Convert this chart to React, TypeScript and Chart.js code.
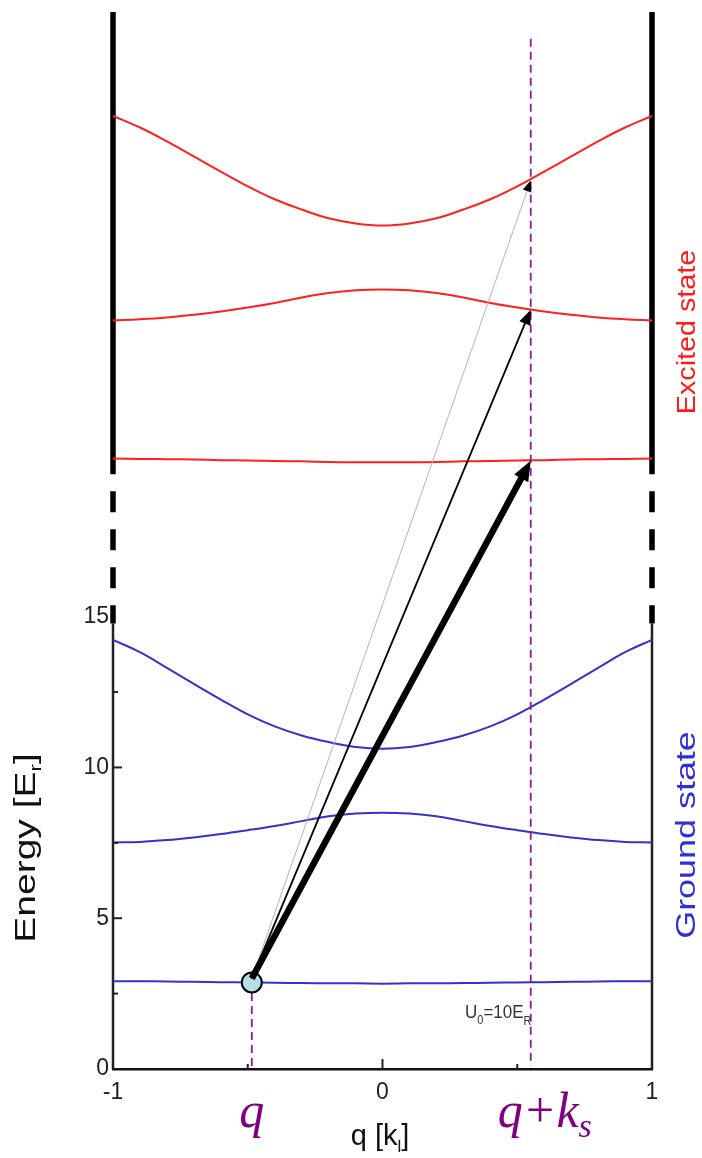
import React, { useEffect, useRef } from "react";
import { Chart, registerables } from "chart.js";

Chart.register(...registerables);

// ---- data ----
const qGrid = [-1, -0.9, -0.8, -0.7, -0.6, -0.5, -0.4, -0.3, -0.2, -0.1, 0, 0.1, 0.2, 0.3, 0.4, 0.5, 0.6, 0.7, 0.8, 0.9, 1];

// ground state bands (blue), energy in E_r
const groundBand1 = [2.91, 2.91, 2.9, 2.89, 2.88, 2.87, 2.86, 2.85, 2.84, 2.84, 2.83, 2.84, 2.84, 2.85, 2.86, 2.87, 2.88, 2.89, 2.9, 2.91, 2.91];
const groundBand2 = [7.51, 7.53, 7.59, 7.68, 7.79, 7.92, 8.06, 8.22, 8.38, 8.47, 8.5, 8.47, 8.38, 8.22, 8.06, 7.92, 7.79, 7.68, 7.59, 7.53, 7.51];
const groundBand3 = [14.23, 13.82, 13.3, 12.77, 12.25, 11.76, 11.36, 11.06, 10.84, 10.68, 10.62, 10.68, 10.84, 11.06, 11.36, 11.76, 12.25, 12.77, 13.3, 13.82, 14.23];

// excited state bands (red), drawn on the same (extended) energy axis
const excitedBand1 = [20.24, 20.23, 20.22, 20.21, 20.19, 20.18, 20.16, 20.15, 20.13, 20.12, 20.12, 20.12, 20.13, 20.15, 20.16, 20.18, 20.19, 20.21, 20.22, 20.23, 20.24];
const excitedBand2 = [24.82, 24.86, 24.92, 25.01, 25.12, 25.25, 25.4, 25.58, 25.73, 25.82, 25.85, 25.82, 25.73, 25.58, 25.4, 25.25, 25.12, 25.01, 24.92, 24.86, 24.82];
const excitedBand3 = [31.6, 31.22, 30.76, 30.26, 29.76, 29.27, 28.84, 28.5, 28.21, 28.04, 27.97, 28.04, 28.21, 28.5, 28.84, 29.27, 29.76, 30.26, 30.76, 31.22, 31.6];

// transition
const qInitial = -0.485;
const qFinal = 0.55;
const initialEnergy = 2.87;
const arrowStartEnergy = 3.0;
const arrowEndEnergies = [20.17, 25.18, 29.46];

// axes
const energyMin = 0;
const energyMax = 35.05;
const yTickLabels = [0, 5, 10, 15];
const xTickLabels = [-1, 0, 1];
const yMajorTicks = [5, 10];
const yMinorTicks = [2.5, 7.5, 12.5];
const xMajorTicks = [0];
const xMinorTicks = [-0.5, 0.5];
const groundFrameTop = 14.77;
const excitedFrameBottom = 19.72;
const markerLineTop = 34.16;

const FONT = "'Liberation Sans', Arial, Helvetica, sans-serif";
const SERIF = "'Liberation Serif', 'Times New Roman', serif";

type Seg = { t: string; size: number; dy?: number; style?: string; family?: string };

function drawRich(
  ctx: CanvasRenderingContext2D,
  segs: Seg[],
  x: number,
  y: number,
  rot: number,
  sx: number,
  sy: number,
  color: string,
  align: "center" | "left"
) {
  ctx.save();
  ctx.translate(x, y);
  ctx.rotate(rot);
  ctx.scale(sx, sy);
  ctx.fillStyle = color;
  ctx.textBaseline = "alphabetic";
  ctx.textAlign = "left";
  let total = 0;
  const widths = segs.map((s) => {
    ctx.font = `${s.style || ""} ${s.size}px ${s.family || FONT}`;
    const w = ctx.measureText(s.t).width;
    total += w;
    return w;
  });
  let cx = align === "center" ? -total / 2 : 0;
  segs.forEach((s, i) => {
    ctx.font = `${s.style || ""} ${s.size}px ${s.family || FONT}`;
    ctx.fillText(s.t, cx, s.dy || 0);
    cx += widths[i];
  });
  ctx.restore();
}

function drawArrow(
  ctx: CanvasRenderingContext2D,
  x0: number,
  y0: number,
  x1: number,
  y1: number,
  w: number,
  headLen: number,
  headHalf: number,
  color: string
) {
  const ang = Math.atan2(y1 - y0, x1 - x0);
  const c = Math.cos(ang);
  const s = Math.sin(ang);
  const bx = x1 - headLen * c;
  const by = y1 - headLen * s;
  ctx.save();
  ctx.strokeStyle = color;
  ctx.lineWidth = w;
  ctx.lineCap = "butt";
  ctx.beginPath();
  ctx.moveTo(x0, y0);
  ctx.lineTo(bx + 2 * c, by + 2 * s);
  ctx.stroke();
  ctx.fillStyle = "#000";
  ctx.beginPath();
  ctx.moveTo(x1, y1);
  ctx.lineTo(bx + headHalf * s, by - headHalf * c);
  ctx.lineTo(bx - headHalf * s, by + headHalf * c);
  ctx.closePath();
  ctx.fill();
  ctx.restore();
}

const overlayPlugin = {
  id: "overlay",
  beforeDraw(chart: any) {
    const ctx = chart.ctx;
    ctx.save();
    ctx.fillStyle = "#ffffff";
    ctx.fillRect(0, 0, chart.width, chart.height);
    ctx.restore();
  },
  afterDatasetsDraw(chart: any) {
    const ctx: CanvasRenderingContext2D = chart.ctx;
    const xs = chart.scales.x;
    const ys = chart.scales.y;
    const left = xs.getPixelForValue(-1);
    const bottom = ys.getPixelForValue(0);

    ctx.save();
    ctx.strokeStyle = "#222";
    ctx.lineWidth = 2;
    const hline = (x0: number, y0: number, x1: number, y1: number) => {
      ctx.beginPath();
      ctx.moveTo(x0, y0);
      ctx.lineTo(x1, y1);
      ctx.stroke();
    };
    yMajorTicks.forEach((v) => {
      const py = ys.getPixelForValue(v);
      hline(left, py, left + 9, py);
    });
    yMinorTicks.forEach((v) => {
      const py = ys.getPixelForValue(v);
      hline(left, py, left + 5, py);
    });
    xMajorTicks.forEach((v) => {
      const px = xs.getPixelForValue(v);
      hline(px, bottom, px, bottom - 10);
    });
    xMinorTicks.forEach((v) => {
      const px = xs.getPixelForValue(v);
      hline(px, bottom, px, bottom - 5);
    });
    ctx.restore();

    // transition arrows
    const x0 = xs.getPixelForValue(qInitial);
    const y0 = ys.getPixelForValue(arrowStartEnergy);
    const x1 = xs.getPixelForValue(qFinal);
    const specs = [
      { w: 6.5, hl: 20, hh: 8, color: "#000" },
      { w: 1.8, hl: 15, hh: 6, color: "#000" },
      { w: 1, hl: 11, hh: 4.5, color: "#b4b4b4" },
    ];
    [2, 1, 0].forEach((i) => {
      const sp = specs[i];
      drawArrow(ctx, x0, y0, x1, ys.getPixelForValue(arrowEndEnergies[i]), sp.w, sp.hl, sp.hh, sp.color);
    });
  },
  afterDraw(chart: any) {
    const ctx: CanvasRenderingContext2D = chart.ctx;
    const xs = chart.scales.x;
    drawRich(
      ctx,
      [
        { t: "Energy [E", size: 30 },
        { t: "r", size: 17, dy: 6 },
        { t: "]", size: 30 },
      ],
      35,
      848,
      -Math.PI / 2,
      1.3,
      1,
      "#111",
      "center"
    );
    drawRich(
      ctx,
      [
        { t: "q [k", size: 29 },
        { t: "l", size: 17, dy: 7 },
        { t: "]", size: 29 },
      ],
      380,
      1145,
      0,
      1,
      1,
      "#111",
      "center"
    );
    drawRich(ctx, [{ t: "Ground state", size: 27 }], 695, 835, -Math.PI / 2, 1.33, 1, "#2f2fd8", "center");
    drawRich(ctx, [{ t: "Excited state", size: 25 }], 695, 332, -Math.PI / 2, 1.15, 1, "#ff1a1a", "center");
    drawRich(
      ctx,
      [{ t: "q", size: 50, style: "italic", family: SERIF }],
      xs.getPixelForValue(qInitial),
      1127,
      0,
      1,
      1,
      "#800080",
      "center"
    );
    drawRich(
      ctx,
      [
        { t: "q+k", size: 50, style: "italic", family: SERIF },
        { t: "s", size: 34, style: "italic", family: SERIF, dy: 10 },
      ],
      xs.getPixelForValue(qFinal) + 14,
      1127,
      0,
      1,
      1,
      "#800080",
      "center"
    );
    drawRich(
      ctx,
      [
        { t: "U", size: 17 },
        { t: "0", size: 11, dy: 5 },
        { t: "=10E", size: 17 },
        { t: "R", size: 11, dy: 6 },
      ],
      465,
      1018,
      0,
      1,
      1.1,
      "#333",
      "left"
    );
  },
};

const pts = (arr: number[]) => qGrid.map((q, i) => ({ x: q, y: arr[i] }));

export default function App() {
  const canvasRef = useRef<HTMLCanvasElement | null>(null);

  useEffect(() => {
    const canvas = canvasRef.current;
    if (!canvas) return;
    const curve = (data: number[], color: string) => ({
      data: pts(data),
      borderColor: color,
      borderWidth: 2,
      pointRadius: 0,
      tension: 0.4,
      fill: false,
      clip: false as any,
    });
    const vline = (x: number, y0: number, y1: number, width: number, color: string, dash: number[] = [], offset = 0) => ({
      data: [
        { x, y: y0 },
        { x, y: y1 },
      ],
      borderColor: color,
      borderWidth: width,
      borderDash: dash,
      borderDashOffset: offset,
      pointRadius: 0,
      tension: 0,
      fill: false,
      clip: false as any,
    });

    const chart = new Chart(canvas, {
      type: "line",
      data: {
        datasets: [
          {
            data: [{ x: qInitial, y: initialEnergy }],
            showLine: false,
            pointRadius: 10,
            pointBackgroundColor: "#b6dfe3",
            pointBorderColor: "#000",
            pointBorderWidth: 2,
            clip: false as any,
          } as any,
          vline(qFinal, markerLineTop, 0.1, 1.8, "#8b1c8b", [8, 5]),
          vline(qInitial, initialEnergy - 0.35, 0.1, 1.8, "#8b1c8b", [8, 5]),
          curve(groundBand1, "#3232cc"),
          curve(groundBand2, "#3232cc"),
          curve(groundBand3, "#3232cc"),
          curve(excitedBand1, "#ff2020"),
          curve(excitedBand2, "#ff2020"),
          curve(excitedBand3, "#ff2020"),
          vline(-1, energyMax, excitedFrameBottom, 5.5, "#000"),
          vline(1, energyMax, excitedFrameBottom, 5.5, "#000"),
          vline(-1, excitedFrameBottom, groundFrameTop, 5.5, "#000", [21, 17], 21),
          vline(1, excitedFrameBottom, groundFrameTop, 5.5, "#000", [21, 17], 21),
          vline(-1, groundFrameTop, 0, 2.5, "#222"),
          vline(1, groundFrameTop, 0, 2.5, "#222"),
        ] as any,
      },
      options: {
        responsive: false,
        animation: false,
        devicePixelRatio: 1,
        events: [],
        layout: { padding: { top: 8, right: 50, left: 0, bottom: 0 } },
        plugins: {
          legend: { display: false },
          tooltip: { enabled: false },
        },
        scales: {
          x: {
            type: "linear",
            min: -1,
            max: 1,
            afterBuildTicks: (scale: any) => {
              scale.ticks = xTickLabels.map((v) => ({ value: v }));
            },
            afterFit: (scale: any) => {
              scale.height = 89;
              scale.paddingLeft = 0;
              scale.paddingRight = 0;
              scale.paddingTop = 0;
              scale.paddingBottom = 0;
            },
            grid: { display: false, drawTicks: false },
            border: { display: true, color: "#111", width: 2.5 },
            ticks: {
              padding: 10,
              color: "#222",
              font: { family: FONT, size: 23 },
              callback: (v: any) => String(v),
            },
          },
          y: {
            type: "linear",
            min: energyMin,
            max: energyMax,
            afterBuildTicks: (scale: any) => {
              scale.ticks = yTickLabels.map((v) => ({ value: v }));
            },
            afterFit: (scale: any) => {
              scale.width = 113;
              scale.paddingTop = 0;
              scale.paddingBottom = 0;
              scale.paddingLeft = 0;
              scale.paddingRight = 0;
            },
            grid: { display: false, drawTicks: false },
            border: { display: false },
            ticks: {
              padding: 4,
              autoSkip: false,
              color: "#222",
              font: { family: FONT, size: 23 },
              callback: (v: any) => String(v),
            },
          },
        },
      } as any,
      plugins: [overlayPlugin],
    });
    return () => chart.destroy();
  }, []);

  return (
    <div style={{ position: "absolute", left: 0, top: 0, width: 702, height: 1158 }}>
      <canvas ref={canvasRef} width={702} height={1158} style={{ width: 702, height: 1158, display: "block" }} />
    </div>
  );
}
